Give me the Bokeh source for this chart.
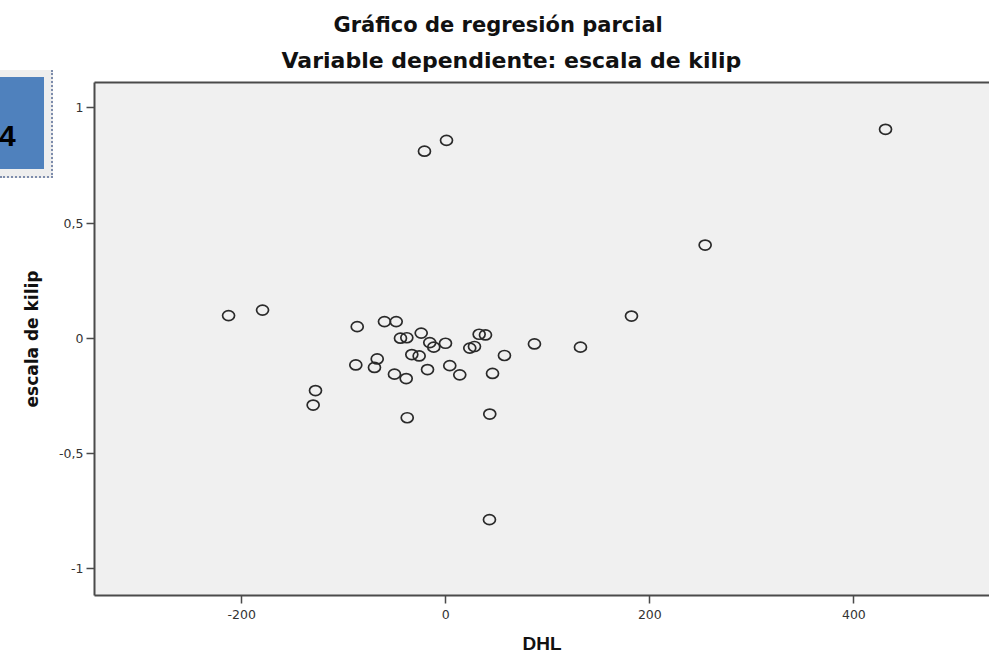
from bokeh.plotting import figure
from bokeh.models import Range1d, FixedTicker, CustomJSTickFormatter, LinearAxis, Title, Div, ColumnDataSource
from bokeh.layouts import column
from bokeh.embed import file_html
from bokeh.resources import INLINE

# ---- data ----
dhl = [431.0, 0.7, -20.9, 254.2, -179.6, -212.9, 182.0, -86.8, -60.1, -48.6,
       -44.4, -38.2, -24.1, -15.7, -11.8, -0.3, -33.3, -26.1, 23.5, 28.1,
       32.7, 38.9, 86.9, 57.5, -88.2, -67.2, -69.9, -50.3, -38.8, -17.9,
       3.9, 13.7, 45.8, -127.7, -130.0, -37.8, 43.1, 132.0, 42.8]
kilip = [0.907, 0.859, 0.812, 0.405, 0.123, 0.099, 0.097, 0.051, 0.073, 0.073,
         0.001, 0.003, 0.023, -0.018, -0.038, -0.021, -0.070, -0.076, -0.042, -0.035,
         0.018, 0.015, -0.024, -0.074, -0.115, -0.089, -0.126, -0.155, -0.174, -0.135,
         -0.118, -0.158, -0.152, -0.226, -0.289, -0.344, -0.328, -0.038, -0.786]
x_ticks = [-200, 0, 200, 400]
y_ticks = [-1, -0.5, 0, 0.5, 1]
title_text = "Gráfico de regresión parcial"
subtitle_text = "Variable dependiente: escala de kilip"
x_label = "DHL"
y_label = "escala de kilip"
badge_text = "4"

src = ColumnDataSource(dict(x=dhl, y=kilip))

p = figure(width=989, height=656, output_backend="svg", toolbar_location=None,
           x_range=Range1d(-344.3, 532.9), y_range=Range1d(-1.115, 1.110),
           min_border_left=94, min_border_right=0, min_border_top=82, min_border_bottom=60,
           background_fill_color="#f0f0f0", border_fill_color="white",
           outline_line_color=None)
p.grid.visible = False
p.title.visible = False

fmt = CustomJSTickFormatter(code="return tick.toString().replace('.', ',')")
AX = "#4a4a4a"
for ax, ticks in ((p.xaxis[0], x_ticks), (p.yaxis[0], y_ticks)):
    ax.ticker = FixedTicker(ticks=ticks)
    ax.formatter = fmt
    ax.axis_line_color = AX
    ax.axis_line_width = 2
    ax.major_tick_line_color = AX
    ax.major_tick_line_width = 1.5
    ax.major_tick_out = 8
    ax.major_tick_in = 0
    ax.minor_tick_line_color = None
    ax.major_label_text_font = "DejaVu Sans"
    ax.major_label_text_font_size = "12.5px"
    ax.major_label_text_color = "#333333"
    ax.axis_label_text_font_style = "bold"
    ax.axis_label_text_color = "#111111"

p.xaxis.major_label_standoff = 6
p.yaxis.major_label_standoff = 3
p.xaxis.axis_label = x_label
p.xaxis.axis_label_text_font = "Liberation Sans"
p.xaxis.axis_label_text_font_size = "19px"
p.xaxis.axis_label_standoff = 11

p.yaxis.axis_label = y_label
p.yaxis.axis_label_text_font = "DejaVu Sans"
p.yaxis.axis_label_text_font_size = "17px"
p.yaxis.axis_label_standoff = 14

top = LinearAxis(ticker=FixedTicker(ticks=[]), axis_line_color=AX, axis_line_width=2,
                 major_tick_line_color=None, minor_tick_line_color=None,
                 major_tick_out=2, major_tick_in=0, major_label_standoff=0,
                 major_label_text_font_size="0px")
p.add_layout(top, "above")

p.ellipse(x="x", y="y", width=12, height=10, width_units="screen", height_units="screen",
          fill_color=None, line_color="#2a2a2a", line_width=1.7, source=src)

# titles
p.add_layout(Title(text=subtitle_text, align="left", offset=187, standoff=19,
                   text_font="DejaVu Sans", text_font_style="bold", text_font_size="22px",
                   text_color="#111111"), "above")
p.add_layout(Title(text=title_text, align="left", offset=239, standoff=0,
                   text_font="DejaVu Sans", text_font_style="bold", text_font_size="21px",
                   text_color="#111111"), "above")

# cropped badge at the top-left corner of the page
badge_html = (
    '<div style="position:relative;width:53px;height:108px;overflow:hidden;">'
    '<div style="position:absolute;left:0;top:0;width:53px;height:108px;background:#eeeeee;'
    'border-right:2px dotted #7d8cab;border-bottom:2px dotted #7d8cab;box-sizing:border-box;"></div>'
    '<div style="position:absolute;left:0;top:7px;width:44px;height:92px;background:#4f81bd;"></div>'
    '<div style="position:absolute;left:-1px;top:51px;font-family:\'Liberation Sans\';font-weight:bold;'
    'font-size:30px;line-height:30px;color:#000;">' + badge_text + '</div>'
    '</div>'
)
badge = Div(text=badge_html, width=53, height=108, margin=0,
            styles={"position": "absolute", "left": "0px", "top": "70px", "z-index": "5"})

layout = column(p, badge)
open("out.html", "w").write(file_html(layout, INLINE))
